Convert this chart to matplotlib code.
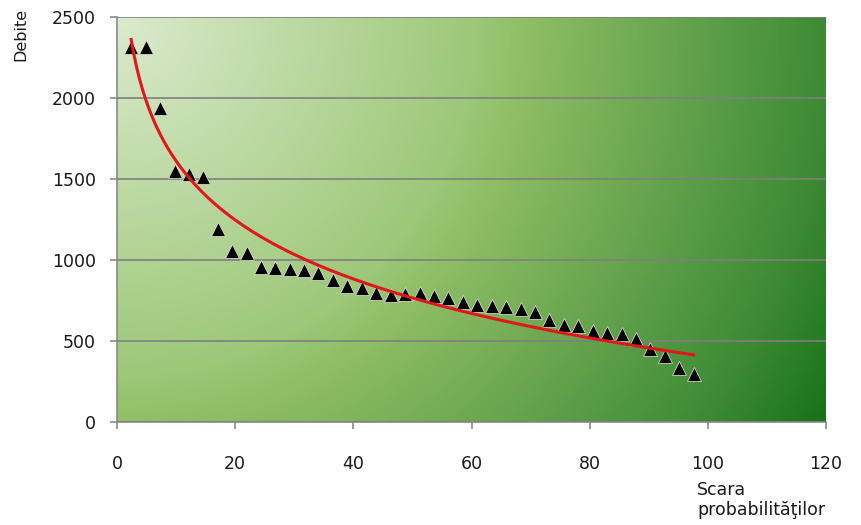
import numpy as np
import matplotlib
matplotlib.use('Agg')
import matplotlib.pyplot as plt
from matplotlib.colors import LinearSegmentedColormap

# probability scale (x) and discharges (y)
prob = [2.4, 4.9, 7.3, 9.8, 12.2, 14.6, 17.1, 19.5, 22.0, 24.4,
        26.8, 29.3, 31.7, 34.1, 36.6, 39.0, 41.5, 43.9, 46.3, 48.8,
        51.2, 53.7, 56.1, 58.5, 61.0, 63.4, 65.9, 68.3, 70.7, 73.2,
        75.6, 78.0, 80.5, 82.9, 85.4, 87.8, 90.2, 92.7, 95.1, 97.6]
debite = [2317, 2317, 1940, 1549, 1529, 1514, 1189, 1057, 1045, 959,
          949, 942, 938, 922, 877, 840, 825, 798, 784, 788,
          795, 778, 765, 742, 722, 714, 708, 696, 679, 630,
          599, 593, 562, 551, 543, 510, 452, 410, 333, 295]

xticks = [0, 20, 40, 60, 80, 100, 120]
yticks = [0, 500, 1000, 1500, 2000, 2500]

# logarithmic trend line, fitted to the points
a, b = np.polyfit(np.log(prob), debite, 1)
xs = np.linspace(min(prob), max(prob), 200)
trend = a * np.log(xs) + b

fig = plt.figure(figsize=(8.61, 5.25), dpi=100)
ax = fig.add_axes([117/861, 1 - 422/525, 709/861, 405/525])

# radial green gradient from the top-left corner
cmap = LinearSegmentedColormap.from_list('bg', [
    (0.0, '#dbeacd'), (0.44, '#9cc878'), (0.5, '#8fbe66'),
    (0.87, '#3e8b35'), (1.0, '#187218')])
gx, gy = np.meshgrid(np.linspace(0, 709, 300), np.linspace(0, 405, 200))
dist = np.sqrt(gx**2 + gy**2) / np.sqrt(709**2 + 405**2)
ax.imshow(dist, cmap=cmap, extent=[0, 120, 0, 2500], origin='upper',
          aspect='auto', zorder=0, vmin=0, vmax=1)

ax.plot(prob, debite, linestyle='none', marker='^', color='black',
        markersize=10, markeredgecolor='#e8ecd8', markeredgewidth=0.5, zorder=3)
ax.plot(xs, trend, color='#e3161b', linewidth=2.2, zorder=4)

ax.set_xlim(0, 120)
ax.set_ylim(0, 2500)
ax.set_xticks(xticks)
ax.set_yticks(yticks)
ax.yaxis.grid(True, color='#7f7f7f', linewidth=1.2)
ax.set_axisbelow(False)
for gl in ax.get_ygridlines():
    gl.set_zorder(1)
for s in ['top', 'right']:
    ax.spines[s].set_visible(False)
for s in ['left', 'bottom']:
    ax.spines[s].set_color('#8a8a8a')
    ax.spines[s].set_linewidth(1.2)
ax.tick_params(colors='#8a8a8a', length=5, width=1.2, labelcolor='#1a1a1a',
               labelsize=12.5)
ax.tick_params(axis='y', pad=10)
ax.tick_params(axis='x', pad=19)

fig.text(21/861, 1 - 34/525, 'Debite', rotation=90, ha='center', va='center',
         fontsize=11.5, color='#1a1a1a')
fig.text(697/861, 1 - 500/525, 'Scara\nprobabilităţilor', ha='left', va='center',
         fontsize=12.5, linespacing=1.15, color='#1a1a1a')

fig.savefig('out.png', dpi=100)
